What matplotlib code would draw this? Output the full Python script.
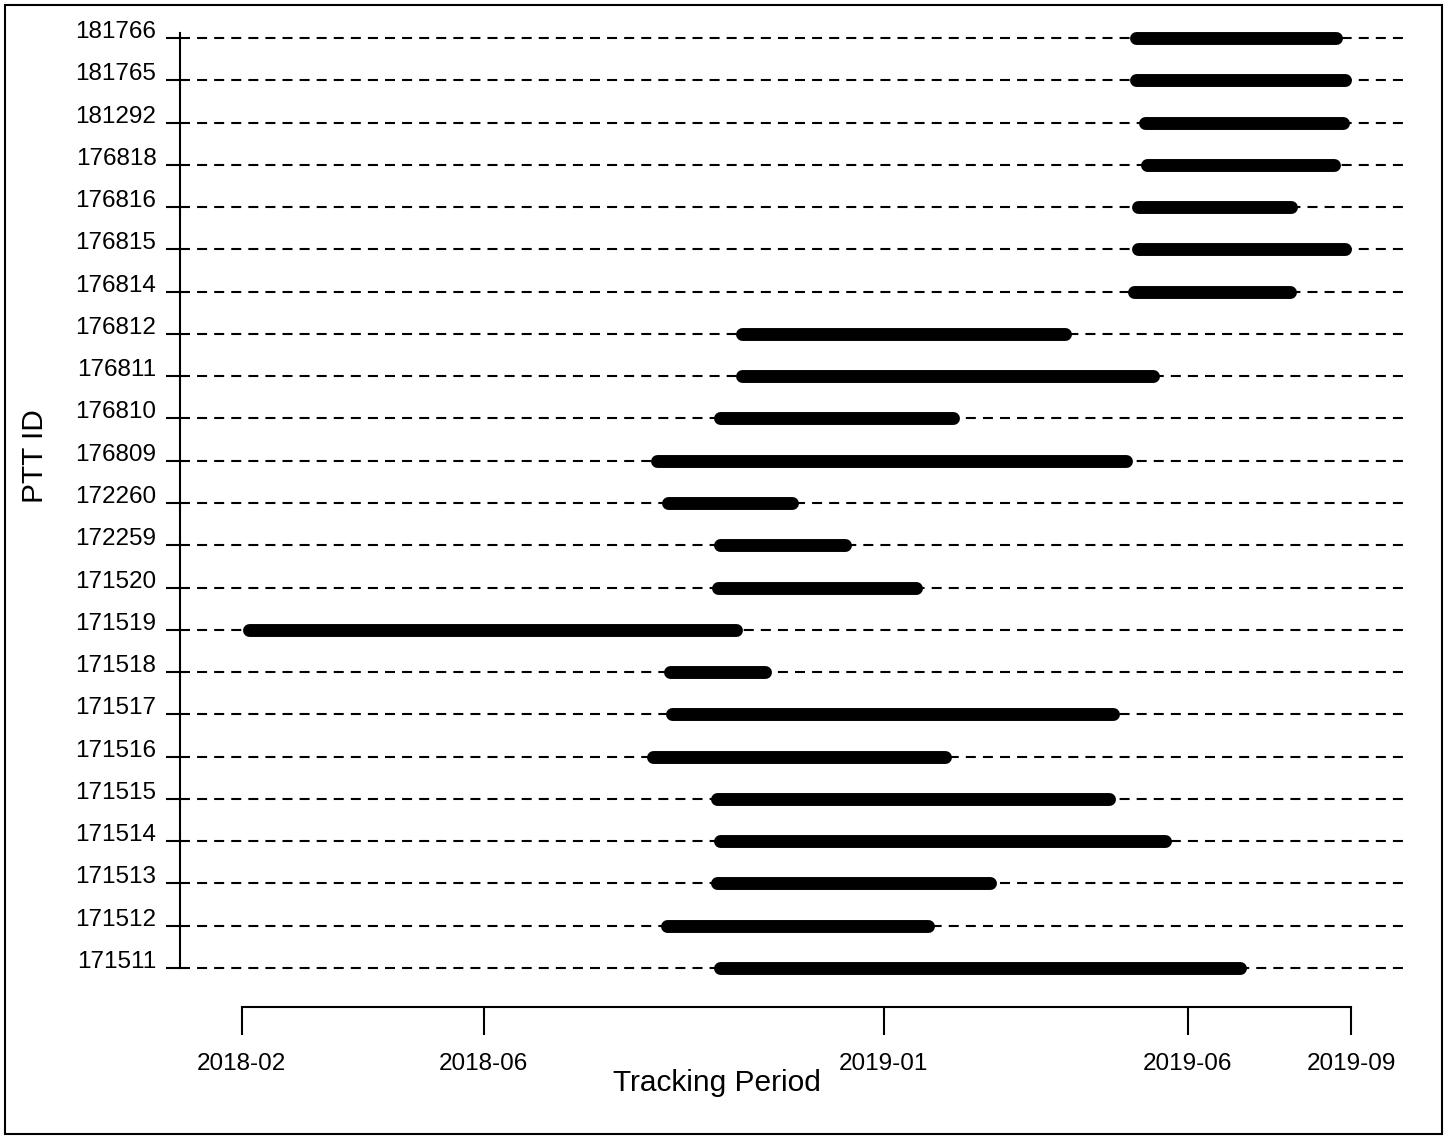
import matplotlib
matplotlib.use('Agg')
import matplotlib.pyplot as plt
import matplotlib.dates as mdates
from matplotlib.patches import Rectangle
from datetime import date

plt.rcParams['font.family'] = ['Liberation Sans', 'DejaVu Sans']

# PTT IDs, bottom to top
ptt_ids = ['171511', '171512', '171513', '171514', '171515', '171516', '171517',
           '171518', '171519', '171520', '172259', '172260', '176809', '176810',
           '176811', '176812', '176814', '176815', '176816', '176818', '181292',
           '181765', '181766']

# tracking start / end dates
start_dates = ['2018-10-08', '2018-09-10', '2018-10-06', '2018-10-08', '2018-10-06',
               '2018-09-03', '2018-09-13', '2018-09-12', '2018-02-05', '2018-10-07',
               '2018-10-08', '2018-09-11', '2018-09-05', '2018-10-08', '2018-10-19',
               '2018-10-19', '2019-05-11', '2019-05-13', '2019-05-13', '2019-05-18',
               '2019-05-17', '2019-05-12', '2019-05-12']
end_dates = ['2019-07-05', '2019-01-24', '2019-02-25', '2019-05-27', '2019-04-28',
             '2019-02-02', '2019-04-30', '2018-10-31', '2018-10-16', '2019-01-18',
             '2018-12-12', '2018-11-14', '2019-05-07', '2019-02-06', '2019-05-21',
             '2019-04-05', '2019-07-31', '2019-08-29', '2019-08-01', '2019-08-23',
             '2019-08-28', '2019-08-29', '2019-08-24']

tick_dates = ['2018-02-01', '2018-06-07', '2019-01-01', '2019-06-08', '2019-09-01']
tick_labels = ['2018-02', '2018-06', '2019-01', '2019-06', '2019-09']


def d(s):
    return mdates.date2num(date.fromisoformat(s))


W, H = 1447, 1139
fig = plt.figure(figsize=(W / 100, H / 100), dpi=100)
ax = fig.add_axes([180 / W, 1 - 968 / H, (1403 - 180) / W, (968 - 33) / H])

xmin, xmax = d('2017-12-31'), d('2019-09-28')
ax.set_xlim(xmin, xmax)
ax.set_ylim(0, 22.12)

for i, pid in enumerate(ptt_ids):
    ax.plot([xmin, xmax], [i, i], color='black', lw=1.5, dashes=(4.8, 3.4),
            clip_on=False, zorder=1)
    ax.plot([d(start_dates[i]), d(end_dates[i])], [i, i], color='black', lw=9.3,
            solid_capstyle='round', clip_on=False, zorder=3)

ax.set_yticks(range(len(ptt_ids)))
ax.set_yticklabels(ptt_ids)
for lab in ax.get_yticklabels():
    lab.set_va('baseline')
ax.tick_params(axis='y', length=10, width=1.5, pad=7, labelsize=17.5)

ax.set_xticks([d(t) for t in tick_dates])
ax.set_xticklabels(tick_labels)
ax.tick_params(axis='x', length=20, width=1.5, pad=13, labelsize=17.5)

ax.spines['top'].set_visible(False)
ax.spines['right'].set_visible(False)
ax.spines['left'].set_linewidth(1.5)
ax.spines['bottom'].set_linewidth(1.5)
ax.spines['bottom'].set_position(('outward', 28))
ax.spines['bottom'].set_bounds(d(tick_dates[0]), d(tick_dates[-1]))

fig.text(717 / W, 1 - 1083 / H, 'Tracking Period', fontsize=21.5, ha='center', va='center')
fig.text(35 / W, 1 - 456 / H, 'PTT ID', fontsize=21.5, rotation=90, ha='center', va='center')

fig.patches.append(Rectangle((5 / W, 5 / H), 1 - 10 / W, 1 - 10 / H, transform=fig.transFigure,
                             fill=False, edgecolor='black', lw=1.5))

fig.savefig('out.png', dpi=100)
